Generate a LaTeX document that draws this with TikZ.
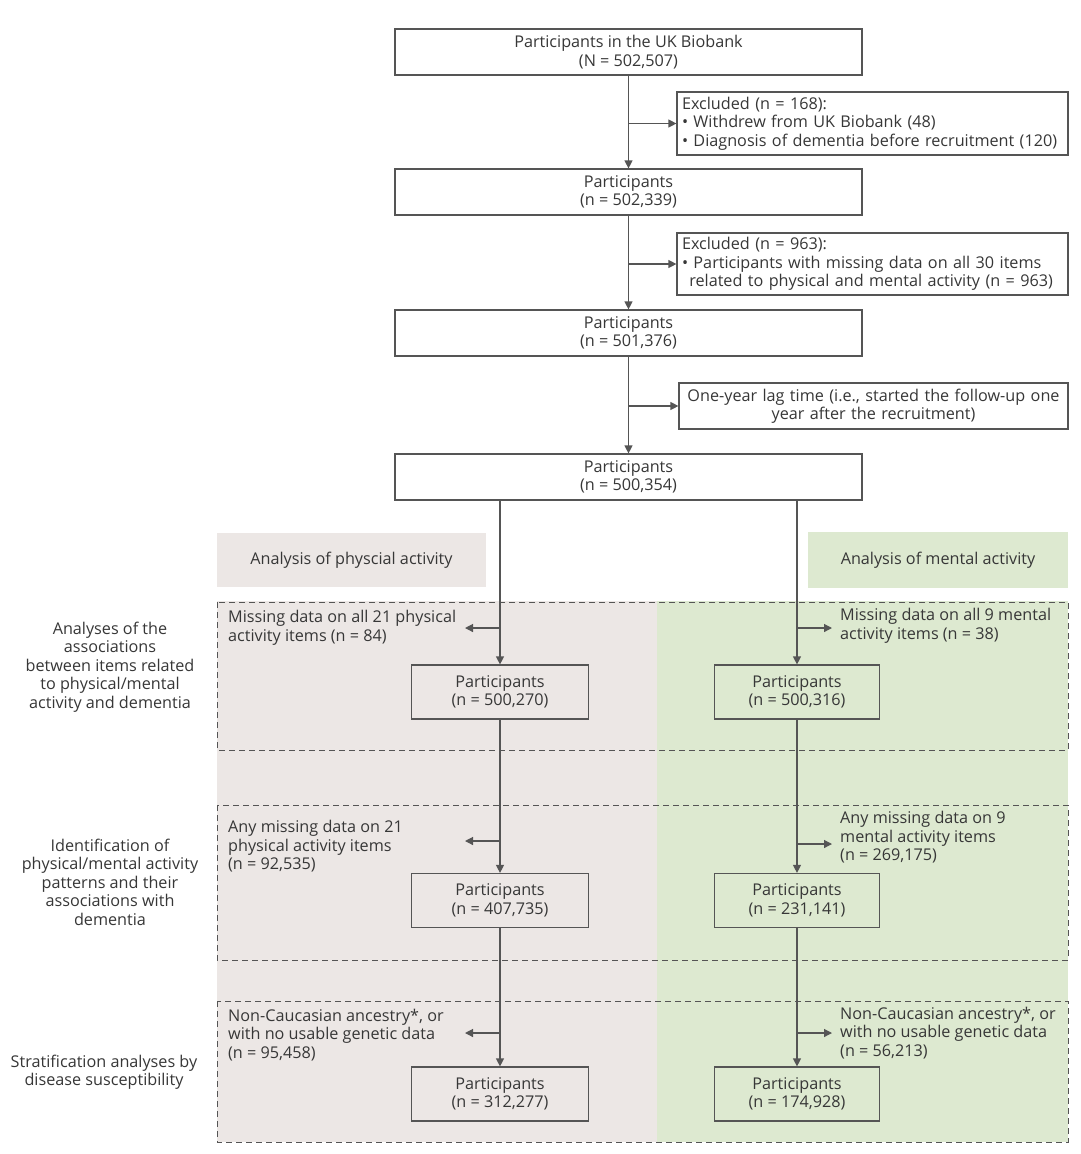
\documentclass[tikz,border=0pt]{standalone}
\usepackage{fontspec}
\setmainfont{Open Sans}
\usetikzlibrary{arrows.meta}
\definecolor{pgrey}{RGB}{236,231,229}
\definecolor{pgreen}{RGB}{221,233,208}
\definecolor{lcol}{RGB}{85,85,85}
\definecolor{tcol}{RGB}{55,55,55}
\begin{document}
\begin{tikzpicture}[x=1pt,y=-1pt,
  every node/.style={font=\fontsize{16.2}{18.5}\selectfont, text=tcol},
  mainbox/.style={draw=lcol, line width=1.2pt, minimum width=467, minimum height=46, align=center, inner sep=0pt},
  exbox/.style={draw=lcol, line width=1.2pt, text width=381, align=left, inner xsep=5pt, inner ysep=2pt},
  subbox/.style={draw=lcol, line width=1.2pt, minimum width=177, minimum height=54, align=center, inner sep=0pt},
  arr/.style={draw=lcol, line width=1.2pt, -{Triangle[length=8pt,width=8pt]}},
  dbox/.style={draw=lcol, line width=1pt, dash pattern=on 6pt off 4pt},
  side/.style={align=left, inner sep=0pt},
  lab/.style={align=center, inner sep=0pt}]
\useasboundingbox (0,0) rectangle (1080,1154);
\fill[white] (0,0) rectangle (1080,1154);

% panel backgrounds
\fill[pgrey] (217,601) rectangle (657,1142);
\fill[pgreen] (657,601) rectangle (1068,1142);
\node[fill=pgrey, minimum width=269, minimum height=54, inner sep=0pt] (hp) at (351.5,560) {Analysis of physcial activity};
\node[fill=pgreen, minimum width=260, minimum height=56, inner sep=0pt] (hm) at (938,560) {Analysis of mental activity};

% dashed section frames
\draw[dbox] (217,602) rectangle (1068,750);
\draw[dbox] (217,805) rectangle (1068,960);
\draw[dbox] (217,1001) rectangle (1068,1142);

% top flow
\node[mainbox] (b1) at (628.5,52) {Participants in the UK Biobank\\(N = 502,507)};
\node[exbox, minimum height=63] (e1) at (872.5,123.5) {Excluded (n = 168):\\• Withdrew from UK Biobank (48)\\• Diagnosis of dementia before recruitment (120)};
\node[mainbox] (b2) at (628.5,192) {Participants\\(n = 502,339)};
\node[exbox, minimum height=62] (e2) at (872.5,264) {Excluded (n = 963):\\• Participants with missing data on all 30 items\\\hspace*{0.45em}related to physical and mental activity (n = 963)};
\node[mainbox] (b3) at (628.5,333) {Participants\\(n = 501,376)};
\node[exbox, text width=379, minimum height=46, align=center] (e3) at (873.5,406) {One-year lag time (i.e., started the follow-up one\\year after the recruitment)};
\node[mainbox] (b4) at (628.5,477) {Participants\\(n = 500,354)};

\draw[arr] (b1) -- (b2);
\draw[arr] (b2) -- (b3);
\draw[arr] (b3) -- (b4);
\draw[arr] (b1.south |- e1.west) -- (e1.west);
\draw[arr] (b2.south |- e2.west) -- (e2.west);
\draw[arr] (b3.south |- e3.west) -- (e3.west);

% physical column
\node[subbox] (p1) at (500,692) {Participants\\(n = 500,270)};
\node[subbox] (p2) at (500,900.5) {Participants\\(n = 407,735)};
\node[subbox] (p3) at (500,1094) {Participants\\(n = 312,277)};
% mental column
\node[subbox, minimum width=165] (m1) at (797,692) {Participants\\(n = 500,316)};
\node[subbox, minimum width=165] (m2) at (797,900.5) {Participants\\(n = 231,141)};
\node[subbox, minimum width=165] (m3) at (797,1094) {Participants\\(n = 174,928)};

\draw[arr] (b4.south -| p1.north) -- (p1.north);
\draw[arr] (b4.south -| m1.north) -- (m1.north);
\draw[arr] (p1) -- (p2);
\draw[arr] (p2) -- (p3);
\draw[arr] (m1) -- (m2);
\draw[arr] (m2) -- (m3);

% side texts
\node[side, anchor=west] (sp1) at (228,628) {Missing data on all 21 physical\\activity items (n = 84)};
\node[side, anchor=west] (sp2) at (228,846.5) {Any missing data on 21\\physical activity items\\(n = 92,535)};
\node[side, anchor=west] (sp3) at (228,1035) {Non-Caucasian ancestry*, or\\with no usable genetic data\\(n = 95,458)};
\node[side, anchor=west] (sm1) at (840,626) {Missing data on all 9 mental\\activity items (n = 38)};
\node[side, anchor=west] (sm2) at (840,837.5) {Any missing data on 9\\mental activity items\\(n = 269,175)};
\node[side, anchor=west] (sm3) at (840,1033) {Non-Caucasian ancestry*, or\\with no usable genetic data\\(n = 56,213)};

\coordinate (ap1) at (465,628);
\coordinate (ap2) at (465,841);
\coordinate (ap3) at (465,1033);
\coordinate (am1) at (832,628);
\coordinate (am2) at (832,844);
\coordinate (am3) at (832,1033);
\draw[arr] (p1.north |- ap1) -- (ap1);
\draw[arr] (p2.north |- ap2) -- (ap2);
\draw[arr] (p3.north |- ap3) -- (ap3);
\draw[arr] (m1.north |- am1) -- (am1);
\draw[arr] (m2.north |- am2) -- (am2);
\draw[arr] (m3.north |- am3) -- (am3);

% row labels
\node[lab] (l1) at (110,667) {Analyses of the\\associations\\between items related\\to physical/mental\\activity and dementia};
\node[lab] (l2) at (110,882) {Identification of\\physical/mental activity\\patterns and their\\associations with\\dementia};
\node[lab] (l3) at (104,1072) {Stratification analyses by\\disease susceptibility};
\end{tikzpicture}
\end{document}
